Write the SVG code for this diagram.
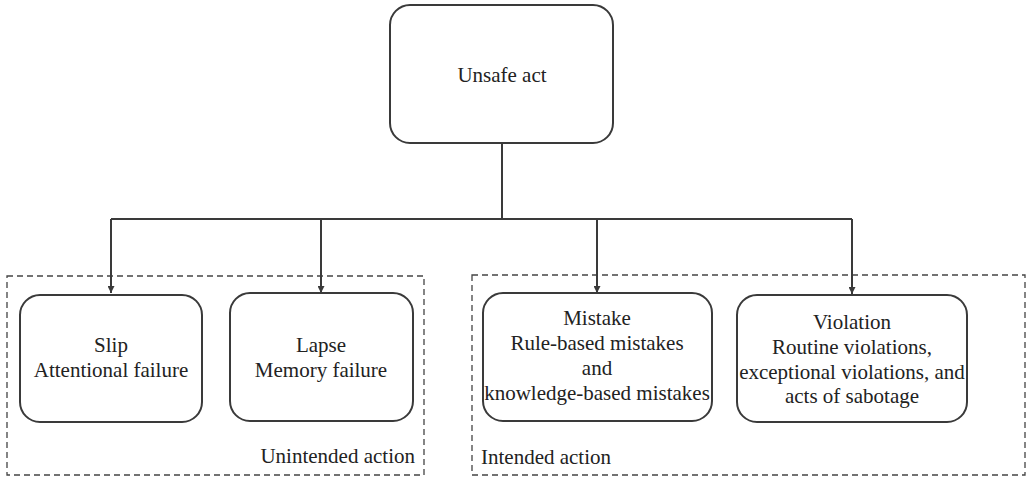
<svg xmlns="http://www.w3.org/2000/svg" width="1029" height="479" viewBox="0 0 1029 479">
<style>
.box{fill:#fff;stroke:#3a3a3a;stroke-width:2}
.grp{fill:none;stroke:#444;stroke-width:1.3;stroke-dasharray:6,4}
.ln{fill:none;stroke:#3a3a3a;stroke-width:2}
text{font-family:'Liberation Serif','Times New Roman',serif;font-size:21px;fill:#222;text-anchor:middle}
.lbl{text-anchor:start}
.rlbl{text-anchor:end}
</style>
<defs>
<marker id="ah" viewBox="0 0 10 10" refX="10" refY="5" markerWidth="7" markerHeight="7" markerUnits="userSpaceOnUse" orient="auto">
<path d="M0,0 L10,5 L0,10 z" fill="#3a3a3a"/>
</marker>
</defs>
<g id="group-unintended">
<rect class="grp" x="7" y="276" width="417" height="199"/>
<text class="rlbl" x="415" y="463">Unintended action</text>
</g>
<g id="group-intended">
<rect class="grp" x="472" y="275" width="553" height="200"/>
<text class="lbl" x="481" y="464">Intended action</text>
</g>
<g id="connectors">
<path class="ln" d="M502,143 V219"/>
<path class="ln" d="M111,219 H852"/>
<path class="ln" d="M111,219 V293" marker-end="url(#ah)"/>
<path class="ln" d="M321,219 V293" marker-end="url(#ah)"/>
<path class="ln" d="M597,219 V293" marker-end="url(#ah)"/>
<path class="ln" d="M852,219 V294" marker-end="url(#ah)"/>
</g>
<g id="unsafe-act">
<rect class="box" x="390" y="5" width="223" height="138" rx="20"/>
<text x="502" y="82">Unsafe act</text>
</g>
<g id="slip">
<rect class="box" x="20" y="295" width="182" height="127" rx="20"/>
<text x="111" y="352">Slip</text>
<text x="111" y="377">Attentional failure</text>
</g>
<g id="lapse">
<rect class="box" x="230" y="293" width="183" height="128" rx="20"/>
<text x="321" y="352">Lapse</text>
<text x="321" y="377">Memory failure</text>
</g>
<g id="mistake">
<rect class="box" x="483" y="293" width="229" height="128" rx="20"/>
<text x="597" y="325">Mistake</text>
<text x="597" y="350">Rule-based mistakes</text>
<text x="597" y="375">and</text>
<text x="597" y="400">knowledge-based mistakes</text>
</g>
<g id="violation">
<rect class="box" x="737" y="295" width="230" height="127" rx="20"/>
<text x="852" y="329">Violation</text>
<text x="852" y="354">Routine violations,</text>
<text x="852" y="379">exceptional violations, and</text>
<text x="852" y="403">acts of sabotage</text>
</g>
</svg>
